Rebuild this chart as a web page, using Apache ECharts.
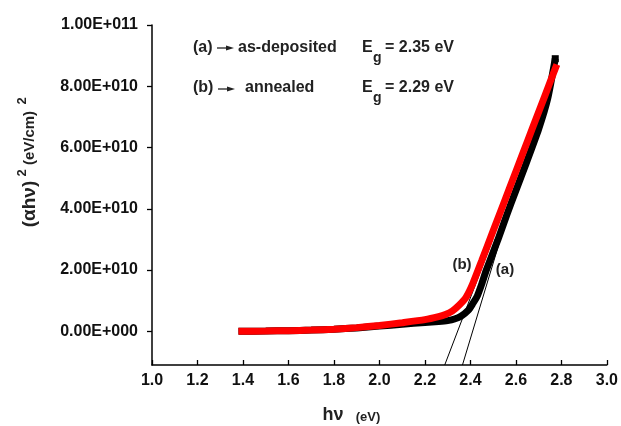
<!DOCTYPE html>
<html>
<head>
<meta charset="utf-8">
<script src="https://cdn.jsdelivr.net/npm/echarts@6/dist/echarts.min.js"></script>
<style>
html,body{margin:0;padding:0;background:#fff;}
#c{width:621px;height:426px;}
</style>
</head>
<body>
<div id="c"></div>
<script>
// ---- data ----
var energyA = [1.38, 1.5, 1.6, 1.7, 1.8, 1.9, 2.0, 2.1, 2.2, 2.26, 2.3, 2.33, 2.36, 2.39, 2.41, 2.43, 2.45, 2.47, 2.52, 2.56, 2.6, 2.645, 2.7, 2.74, 2.773];
var alphaA  = [0.0, 0.01e10, 0.02e10, 0.04e10, 0.07e10, 0.11e10, 0.17e10, 0.23e10, 0.29e10, 0.32e10, 0.35e10, 0.40e10, 0.50e10, 0.68e10, 0.90e10, 1.15e10, 1.55e10, 2.0e10, 2.97e10, 3.8e10, 4.6e10, 5.48e10, 6.6e10, 7.6e10, 8.9e10];

var energyB = [1.38, 1.5, 1.6, 1.7, 1.8, 1.9, 2.0, 2.1, 2.2, 2.26, 2.29, 2.32, 2.35, 2.38, 2.41, 2.45, 2.5, 2.55, 2.6, 2.65, 2.7, 2.75, 2.78];
var alphaB  = [0.0, 0.01e10, 0.02e10, 0.04e10, 0.07e10, 0.12e10, 0.19e10, 0.28e10, 0.38e10, 0.48e10, 0.55e10, 0.66e10, 0.85e10, 1.1e10, 1.55e10, 2.31e10, 3.28e10, 4.25e10, 5.22e10, 6.19e10, 7.16e10, 8.13e10, 8.71e10];

// tangent (extrapolation) lines
var fitAx = [2.365, 2.572];
var fitAy = [-1.1e10, 4.0e10];
var fitBx = [2.287, 2.498];
var fitBy = [-1.1e10, 3.0e10];

var xTickLabels = ['1.0','1.2','1.4','1.6','1.8','2.0','2.2','2.4','2.6','2.8','3.0'];
var yTickValues = [0, 2e10, 4e10, 6e10, 8e10, 1e11];
var yTickLabels = ['0.00E+000','2.00E+010','4.00E+010','6.00E+010','8.00E+010','1.00E+011'];

function zip(xs, ys){ return xs.map(function(x,i){ return [x, ys[i]]; }); }

var chart = echarts.init(document.getElementById('c'), null, {renderer:'canvas'});
var F = 'Liberation Sans, Arial, sans-serif';

var option = {
  backgroundColor: '#ffffff',
  animation: false,
  grid: {left:152, right:13, top:25, bottom:61, containLabel:false},
  xAxis: {
    type:'value', min:1, max:3, interval:0.2,
    axisLine:{show:true, onZero:false, lineStyle:{color:'#000', width:1.5}},
    axisTick:{show:true, inside:true, length:5, lineStyle:{color:'#000', width:1.3}},
    splitLine:{show:false},
    axisLabel:{
      margin:8, color:'#111', fontFamily:F, fontWeight:'bold', fontSize:16,
      formatter:function(v){ var i=Math.round((v-1)/0.2); return xTickLabels[i]||''; }
    }
  },
  yAxis: {
    type:'value', min:-1.1e10, max:1e11,
    axisLine:{show:true, onZero:false, lineStyle:{color:'#000', width:1.5}},
    axisTick:{show:true, inside:false, length:5, customValues:yTickValues, lineStyle:{color:'#000', width:1.3}},
    splitLine:{show:false},
    axisLabel:{
      margin:14, color:'#111', fontFamily:F, fontWeight:'bold', fontSize:16,
      customValues:yTickValues,
      formatter:function(v){ var i=yTickValues.indexOf(v); return i>=0?yTickLabels[i]:''; }
    }
  },
  series: [
    {type:'line', data:zip(fitAx, fitAy), symbol:'none', lineStyle:{color:'#000', width:1}, z:1},
    {type:'line', data:zip(fitBx, fitBy), symbol:'none', lineStyle:{color:'#000', width:1}, z:1},
    {type:'line', data:zip(energyA, alphaA), smooth:0.2, showSymbol:true,
      symbol:function(v, p){ return p.dataIndex===energyA.length-1 ? 'rect' : 'none'; },
      symbolSize:7, itemStyle:{color:'#000'},
      lineStyle:{color:'#000', width:7}, z:2},
    {type:'line', data:zip(energyB, alphaB), smooth:0.2, symbol:'none',
      lineStyle:{color:'#ff0000', width:7}, z:3}
  ],
  graphic: [
    // legend-like annotation
    {type:'text', x:193, y:48, style:{text:'(a)', font:'bold 16px '+F, fill:'#222', verticalAlign:'middle'}},
    {type:'line', shape:{x1:217, y1:48, x2:228, y2:48}, style:{stroke:'#222', lineWidth:1.3}},
    {type:'polygon', shape:{points:[[226,45.5],[234,48],[226,50.5]]}, style:{fill:'#222'}},
    {type:'text', x:238, y:48, style:{text:'as-deposited', font:'bold 16px '+F, fill:'#222', verticalAlign:'middle'}},
    {type:'text', x:362, y:48, style:{text:'E', font:'bold 16px '+F, fill:'#222', verticalAlign:'middle'}},
    {type:'text', x:373, y:58, style:{text:'g', font:'bold 14px '+F, fill:'#222', verticalAlign:'middle'}},
    {type:'text', x:385, y:48, style:{text:'= 2.35 eV', font:'bold 16px '+F, fill:'#222', verticalAlign:'middle'}},

    {type:'text', x:193, y:88, style:{text:'(b)', font:'bold 16px '+F, fill:'#222', verticalAlign:'middle'}},
    {type:'line', shape:{x1:218, y1:89, x2:229, y2:89}, style:{stroke:'#222', lineWidth:1.3}},
    {type:'polygon', shape:{points:[[227,86.5],[235,89],[227,91.5]]}, style:{fill:'#222'}},
    {type:'text', x:245, y:88, style:{text:'annealed', font:'bold 16px '+F, fill:'#222', verticalAlign:'middle'}},
    {type:'text', x:362, y:88, style:{text:'E', font:'bold 16px '+F, fill:'#222', verticalAlign:'middle'}},
    {type:'text', x:373, y:98, style:{text:'g', font:'bold 14px '+F, fill:'#222', verticalAlign:'middle'}},
    {type:'text', x:385, y:88, style:{text:'= 2.29 eV', font:'bold 16px '+F, fill:'#222', verticalAlign:'middle'}},

    // curve labels
    {type:'text', x:462, y:265, style:{text:'(b)', font:'bold 15px '+F, fill:'#222', align:'center', verticalAlign:'middle'}},
    {type:'text', x:505, y:270, style:{text:'(a)', font:'bold 15px '+F, fill:'#222', align:'center', verticalAlign:'middle'}},

    // x axis title
    {type:'text', x:333, y:415, style:{text:'hν', font:'bold 18px '+F, fill:'#222', align:'center', verticalAlign:'middle'}},
    {type:'text', x:368, y:417, style:{text:'(eV)', font:'bold 13px '+F, fill:'#222', align:'center', verticalAlign:'middle'}},

    // y axis title (rotated)
    {type:'text', x:30, y:204, rotation:Math.PI/2, style:{text:'(αhν)', font:'bold 19px '+F, fill:'#222', align:'center', verticalAlign:'middle'}},
    {type:'text', x:22, y:173, rotation:Math.PI/2, style:{text:'2', font:'bold 13px '+F, fill:'#222', align:'center', verticalAlign:'middle'}},
    {type:'text', x:30, y:138, rotation:Math.PI/2, style:{text:'(eV/cm)', font:'bold 15px '+F, fill:'#222', align:'center', verticalAlign:'middle'}},
    {type:'text', x:22, y:101, rotation:Math.PI/2, style:{text:'2', font:'bold 13px '+F, fill:'#222', align:'center', verticalAlign:'middle'}}
  ]
};
chart.setOption(option);
</script>
</body>
</html>
